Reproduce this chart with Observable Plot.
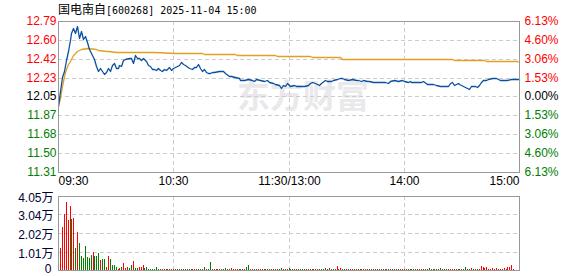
<!DOCTYPE html>
<html><head><meta charset="utf-8">
<script src="https://cdn.jsdelivr.net/npm/d3@7"></script>
<script src="https://cdn.jsdelivr.net/npm/@observablehq/plot@0.6"></script>
<style>
html,body{margin:0;padding:0;background:#fff;}
#wrap{position:relative;width:578px;height:276px;overflow:hidden;background:#fff;}
#title{position:absolute;left:58px;top:2px;height:14px;line-height:14px;white-space:nowrap;color:#000;z-index:5;}
#title .cn{font-family:"Noto Sans CJK SC";font-size:12px;}
#title .lat{font-family:"DejaVu Sans Mono";font-size:10px;}
#main,#vol{position:absolute;left:0;}
#main{top:0;} #vol{top:190px;}
</style></head><body>
<div id="wrap"><div id="main"></div><div id="vol"></div><div id="title"></div></div>
<script>
// ---- data ----
const stockName = "国电南自";
const stockCode = "[600268]";
const stamp = "2025-11-04 15:00";
const watermark = "东方财富";
const prevClose = 12.05;
const priceTickLabels = ["12.79","12.60","12.42","12.23","12.05","11.87","11.68","11.50","11.31"];
const pctTickLabels = ["6.13%","4.60%","3.06%","1.53%","0.00%","1.53%","3.06%","4.60%","6.13%"];
const timeTickMinutes = [0, 60, 120, 180, 240];
const timeTickLabels = ["09:30","10:30","11:30/13:00","14:00","15:00"];
const volTickValues = [4.05, 3.04, 2.02, 1.01, 0];
const volTickLabels = ["4.05万","3.04万","2.02万","1.01万","0"];

// price (minutes since open, trading time)
const priceMin = [
  0,1,2,3,4,5,6,7,8,9,
  10,11,12,13,14,15,16,17,18,19,
  20,21,22,23,24,25,26,27,28,29,
  30,31,32,33,34,35,37,38,39,40,
  41,42,43,44,45,46,47,48,49,50,
  51,52,53,54,55,56,58,59,60,61,
  62,63,64,65,66,68,70,71,72,73,
  74,75,76,77,78,79,80,81,84,86,
  87,89,90,92,94,95,97,99,101,102,
  103,105,107,109,110,112,113,115,116,117,
  118,119,120,121,123,124,126,128,130,131,
  132,134,136,137,139,140,142,143,145,147,
  148,149,151,153,155,156,158,159,161,162,
  164,167,170,172,173,175,177,179,180,182,
  183,184,186,189,190,192,194,195,197,199,
  202,203,204,205,206,207,208,209,211,212,
  213,214,215,216,217,218,219,220,221,223,
  224,226,228,230,232,234,236,240];
const priceVal = [
  11.96,12.10,12.24,12.30,12.41,12.50,12.60,12.67,12.72,12.67,
  12.74,12.62,12.69,12.61,12.64,12.58,12.52,12.48,12.44,12.42,
  12.35,12.30,12.33,12.30,12.27,12.29,12.33,12.30,12.36,12.38,
  12.33,12.33,12.36,12.35,12.41,12.42,12.43,12.43,12.38,12.46,
  12.43,12.43,12.41,12.43,12.42,12.40,12.36,12.35,12.32,12.32,
  12.31,12.33,12.31,12.30,12.32,12.31,12.34,12.31,12.33,12.34,
  12.35,12.36,12.39,12.37,12.36,12.33,12.32,12.34,12.34,12.37,
  12.33,12.30,12.32,12.29,12.28,12.28,12.29,12.29,12.30,12.30,
  12.28,12.25,12.25,12.24,12.23,12.21,12.21,12.22,12.21,12.20,
  12.22,12.21,12.20,12.21,12.19,12.18,12.17,12.16,12.13,12.16,
  12.15,12.18,12.16,12.15,12.16,12.15,12.15,12.15,12.16,12.18,
  12.19,12.18,12.16,12.18,12.21,12.20,12.20,12.21,12.22,12.23,
  12.23,12.22,12.21,12.22,12.21,12.21,12.20,12.21,12.20,12.20,
  12.19,12.19,12.19,12.18,12.20,12.21,12.20,12.21,12.20,12.19,
  12.20,12.19,12.19,12.19,12.20,12.17,12.17,12.17,12.16,12.15,
  12.15,12.15,12.18,12.19,12.16,12.17,12.18,12.17,12.15,12.14,
  12.13,12.12,12.15,12.15,12.15,12.14,12.16,12.19,12.21,12.21,
  12.22,12.23,12.23,12.21,12.21,12.21,12.22,12.22];

// average price line
const avgMin = [0,1,2,3,4,5,6,8,10,12, 15,20,21,25,26,30,31,49,50,61,
  62,75,76,92,93,113,114,120,131,132, 147,148,182,183,205,206,222,223,239,240];
const avgVal = [11.97,12.04,12.15,12.25,12.32,12.37,12.40,12.46,12.50,12.52,
  12.525,12.52,12.51,12.50,12.499,12.49,12.489,12.485,12.483,12.477,
  12.476,12.473,12.465,12.464,12.455,12.454,12.448,12.447,12.445,12.435,
  12.434,12.422,12.42,12.415,12.414,12.405,12.404,12.395,12.394,12.385];

// volume per minute (万股), minutes 1..240
const volVal = [
  1.19,2.34,3.07,3.70,2.74,3.50,2.78,2.86,1.19,2.06,
  1.46,0.75,0.67,1.31,0.70,0.64,0.80,0.98,0.77,0.77,
  0.95,0.55,0.62,0.58,0.18,0.77,0.58,0.27,0.27,0.18,
  0.04,0.10,0.15,0.40,0.10,0.15,0.10,0.30,0.51,0.10,
  0.10,0.15,0.15,0.27,0.10,0.15,0.08,0.08,0.08,0.08,
  0.15,0.08,0.08,0.05,0.04,0.05,0.06,0.05,0.04,0.05,
  0.05,0.06,0.04,0.05,0.05,0.04,0.05,0.06,0.05,0.04,
  0.05,0.05,0.04,0.05,0.06,0.15,0.05,0.06,0.44,0.05,
  0.05,0.05,0.06,0.05,0.05,0.05,0.12,0.05,0.05,0.12,
  0.05,0.05,0.05,0.05,0.05,0.04,0.05,0.18,0.25,0.05,
  0.05,0.04,0.05,0.05,0.04,0.05,0.05,0.04,0.05,0.05,
  0.05,0.05,0.06,0.05,0.05,0.12,0.05,0.04,0.05,0.10,
  0.05,0.04,0.05,0.05,0.04,0.05,0.05,0.04,0.05,0.05,
  0.05,0.06,0.04,0.05,0.05,0.04,0.05,0.06,0.12,0.05,
  0.12,0.05,0.04,0.05,0.22,0.05,0.12,0.05,0.04,0.05,
  0.05,0.04,0.05,0.05,0.04,0.05,0.05,0.04,0.05,0.05,
  0.05,0.04,0.05,0.05,0.04,0.05,0.05,0.04,0.05,0.05,
  0.05,0.04,0.05,0.05,0.04,0.05,0.05,0.04,0.05,0.05,
  0.05,0.04,0.05,0.05,0.04,0.05,0.05,0.04,0.05,0.05,
  0.05,0.04,0.12,0.05,0.04,0.05,0.05,0.04,0.12,0.05,
  0.05,0.04,0.05,0.05,0.04,0.05,0.05,0.04,0.05,0.05,
  0.05,0.18,0.04,0.05,0.12,0.05,0.04,0.05,0.05,0.22,
  0.15,0.12,0.18,0.07,0.07,0.12,0.07,0.12,0.07,0.05,
  0.05,0.12,0.05,0.15,0.18,0.27,0.05,0.00,0.00,0.49];
// r = up minute, g = down minute
const volDir = [
  "rrrrrrgrgr","gggggggrgg","grggrrgggg","rrgrrrggrg","grrrgggggg",
  "ggrgrrgrgr","rgrggrgrgr","rggrggrggg","rrrgrggrgr","rrgrgrgggr",
  "rgrrgrgrgr","grgrggrgrg","grggrggrgr","rggrgrggrg","grggrrrggr",
  "grrgrgrgrg","rgrrgrgrgg","rgrgrgrrgr","grgrggrgrg","rggrgrgrgg",
  "rgrrgrgrgr","ggrgrgrgrr","rrrrrrrrgg","rrgrrrrrrr"].join("");

// ---- drawing ----
document.getElementById("title").innerHTML =
  `<span class="cn">${stockName}</span><span class="lat">${stockCode} ${stamp}</span>`;

const W = 578;
const RED = "#ff0000", GREEN = "#008000", BLACK = "#000000";
const GRID = {stroke: "#cccccc", strokeDasharray: "4,3"};
const FONT = "Liberation Sans, Arial, 'Noto Sans CJK SC', sans-serif";
const colorOf = v => Math.abs(v - prevClose) < 1e-6 ? BLACK : (v > prevClose ? RED : GREEN);

const priceTicks = priceTickLabels.map(Number);
const tickRows = priceTicks.map((v, i) => ({v, price: priceTickLabels[i], pct: pctTickLabels[i]}));
const priceData = priceMin.map((m, i) => ({m, p: priceVal[i]}));
const avgData = avgMin.map((m, i) => ({m, p: avgVal[i]}));
const timeRows = timeTickMinutes.map((m, i) => ({m, label: timeTickLabels[i]}));

const main = Plot.plot({
  width: W, height: 190,
  marginLeft: 58, marginRight: 59, marginTop: 21, marginBottom: 18,
  style: {fontFamily: FONT, fontSize: "12px", background: "#fff", overflow: "visible"},
  x: {domain: [0, 240], axis: null, round: true},
  y: {domain: [priceTicks[priceTicks.length - 1], priceTicks[0]], axis: null, round: true},
  color: {type: "identity"},
  marks: [
    Plot.text([watermark], {frameAnchor: "middle", dx: 14, fontSize: 33, fontWeight: "bold",
      fill: "#e9e9ec", fontFamily: "Noto Sans CJK SC"}),
    Plot.ruleY(priceTicks.slice(1, -1), GRID),
    Plot.ruleX(timeTickMinutes.slice(1, -1), GRID),
    Plot.line(avgData, {x: "m", y: "p", stroke: "#e0a020", strokeWidth: 1.3}),
    Plot.line(priceData, {x: "m", y: "p", stroke: "#0a50a0", strokeWidth: 1.3}),
    Plot.frame({stroke: "#999999"}),
    Plot.text(tickRows, {y: "v", text: "price", frameAnchor: "left", textAnchor: "end", dx: -2,
      fill: d => colorOf(d.v)}),
    Plot.text(tickRows, {y: "v", text: "pct", frameAnchor: "right", textAnchor: "start", dx: 5,
      fill: d => colorOf(d.v)}),
    Plot.text(timeRows.slice(0, 1), {x: "m", text: "label", frameAnchor: "bottom", textAnchor: "start",
      lineAnchor: "middle", dy: 9, fill: BLACK}),
    Plot.text(timeRows.slice(1, -1), {x: "m", text: "label", frameAnchor: "bottom", textAnchor: "middle",
      lineAnchor: "middle", dy: 9, fill: BLACK}),
    Plot.text(timeRows.slice(-1), {x: "m", text: "label", frameAnchor: "bottom", textAnchor: "end",
      lineAnchor: "middle", dy: 9, fill: BLACK})
  ]
});
document.getElementById("main").append(main);

const volData = volVal.map((v, i) => ({m: i + 1, v, up: volDir[i] === "r"}));
const volRows = volTickValues.map((v, i) => ({v, label: volTickLabels[i]}));
const vol = Plot.plot({
  width: W, height: 86,
  marginLeft: 58, marginRight: 59, marginTop: 6, marginBottom: 6,
  style: {fontFamily: FONT, fontSize: "12px", background: "#fff", overflow: "visible"},
  x: {domain: [0, 240], axis: null, round: true},
  y: {domain: [0, volTickValues[0]], axis: null, round: true},
  color: {type: "identity"},
  marks: [
    Plot.ruleY(volTickValues.slice(1, -1), GRID),
    Plot.ruleX(timeTickMinutes.slice(1, -1), GRID),
    Plot.ruleX(volData, {x: "m", y1: 0, y2: "v", stroke: d => d.up ? RED : GREEN, strokeWidth: 1}),
    Plot.frame({stroke: "#999999"}),
    Plot.text(volRows.slice(0, -1), {y: "v", text: "label", frameAnchor: "left", textAnchor: "end", dx: -5, dy: 2,
      fill: "#000033"}),
    Plot.text(volRows.slice(-1), {y: "v", text: "label", frameAnchor: "left", textAnchor: "end", dx: -7, dy: -1,
      fill: "#000033"})
  ]
});
document.getElementById("vol").append(vol);
</script>
</body></html>
